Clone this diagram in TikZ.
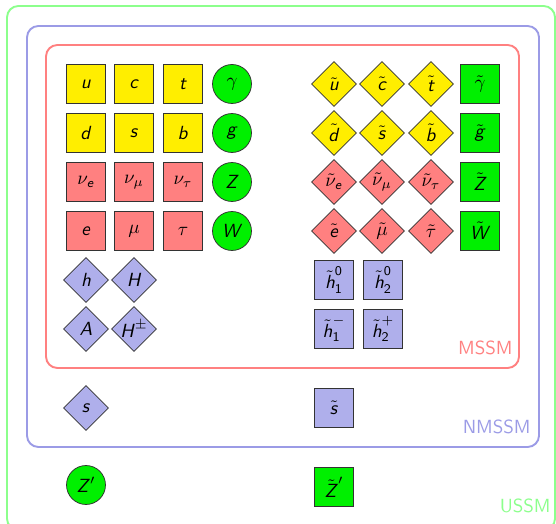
\documentclass[tikz,border=0pt]{standalone}
\usepackage{amsmath}
\usetikzlibrary{shapes.geometric}
\definecolor{qyel}{RGB}{255,238,0}
\definecolor{qred}{RGB}{255,128,128}
\definecolor{qgrn}{RGB}{0,240,0}
\definecolor{qblu}{RGB}{175,175,235}
\definecolor{lred}{RGB}{255,128,128}
\definecolor{lblu}{RGB}{155,155,230}
\definecolor{lgrn}{RGB}{140,255,140}
\newcommand\sv[1]{\text{\sffamily\itshape #1\/}}
\newcommand\sn[1]{\text{\sffamily #1}}
\begin{document}
\begin{tikzpicture}[x=0.526pt,y=-0.526pt,
  every node/.style={font=\sffamily},
  sq/.style={draw=black!80,rectangle,minimum size=20.5pt,inner sep=0pt},
  ci/.style={draw=black!80,circle,minimum size=20.5pt,inner sep=0pt,fill=qgrn},
  di/.style={draw=black!80,diamond,minimum size=23.7pt,inner sep=0pt},
  grp/.style={rounded corners=6pt,line width=1pt},
  lab/.style={anchor=base east,inner sep=0pt}]
\useasboundingbox (0,0) rectangle (556,524);
% group boxes
\draw[grp,draw=lgrn] (7,6) rectangle (555,530);
\draw[grp,draw=lblu] (27,26) rectangle (539,447);
\draw[grp,draw=lred] (46,45) rectangle (519,368);
\node[lab,text=lred] (lmssm) at (513,355) {MSSM};
\node[lab,text=lblu] (lnmssm) at (531,433) {NMSSM};
\node[lab,text=lgrn] (lussm) at (551,512) {USSM};
% SM particles
\node[sq,fill=qyel] (u) at (86,84) {$\sv{u}$};
\node[sq,fill=qyel] (c) at (134,84) {$\sv{c}$};
\node[sq,fill=qyel] (t) at (183,84) {$\sv{t}$};
\node[ci] (gam) at (232,84) {$\gamma$};
\node[sq,fill=qyel] (d) at (86,133) {$\sv{d}$};
\node[sq,fill=qyel] (s) at (134,133) {$\sv{s}$};
\node[sq,fill=qyel] (b) at (183,133) {$\sv{b}$};
\node[ci] (g) at (232,133) {$\sv{g}$};
\node[sq,fill=qred] (ne) at (86,182) {$\nu_{\sv{e}}$};
\node[sq,fill=qred] (nm) at (134,182) {$\nu_\mu$};
\node[sq,fill=qred] (nt) at (183,182) {$\nu_\tau$};
\node[ci] (Z) at (232,182) {$\sv{Z}$};
\node[sq,fill=qred] (e) at (86,231) {$\sv{e}$};
\node[sq,fill=qred] (mu) at (134,231) {$\mu$};
\node[sq,fill=qred] (tau) at (183,231) {$\tau$};
\node[ci] (W) at (232,231) {$\sv{W}$};
% Higgs
\node[di,fill=qblu] (h) at (86,280) {$\sv{h}$};
\node[di,fill=qblu] (H) at (134,280) {$\sv{H}$};
\node[di,fill=qblu] (A) at (86,329) {$\sv{A}$};
\node[di,fill=qblu] (Hpm) at (134,329) {$\sv{H}^\pm$};
\node[di,fill=qblu] (sing) at (86,408) {$\sv{s}$};
\node[ci] (Zp) at (86,485) {$\sv{Z}'$};
% superpartners
\node[di,fill=qyel] (su) at (334,84) {$\tilde{\sv{u}}$};
\node[di,fill=qyel] (sc) at (382,84) {$\tilde{\sv{c}}$};
\node[di,fill=qyel] (st) at (431,84) {$\tilde{\sv{t}}$};
\node[sq,fill=qgrn] (sgam) at (480,84) {$\tilde\gamma$};
\node[di,fill=qyel] (sd) at (334,133) {$\tilde{\sv{d}}$};
\node[di,fill=qyel] (ss) at (382,133) {$\tilde{\sv{s}}$};
\node[di,fill=qyel] (sb) at (431,133) {$\tilde{\sv{b}}$};
\node[sq,fill=qgrn] (sg) at (480,133) {$\tilde{\sv{g}}$};
\node[di,fill=qred] (sne) at (334,182) {$\tilde\nu_{\sv{e}}$};
\node[di,fill=qred] (snm) at (382,182) {$\tilde\nu_\mu$};
\node[di,fill=qred] (snt) at (431,182) {$\tilde\nu_\tau$};
\node[sq,fill=qgrn] (sZ) at (480,182) {$\tilde{\sv{Z}}$};
\node[di,fill=qred] (se) at (334,231) {$\tilde{\sv{e}}$};
\node[di,fill=qred] (smu) at (382,231) {$\tilde\mu$};
\node[di,fill=qred] (stau) at (431,231) {$\tilde\tau$};
\node[sq,fill=qgrn] (sW) at (480,231) {$\tilde{\sv{W}}$};
\node[sq,fill=qblu] (h10) at (334,280) {$\tilde{\sv{h}}_{\sn{1}}^{\sn{0}}$};
\node[sq,fill=qblu] (h20) at (383,280) {$\tilde{\sv{h}}_{\sn{2}}^{\sn{0}}$};
\node[sq,fill=qblu] (h1m) at (334,329) {$\tilde{\sv{h}}_{\sn{1}}^-$};
\node[sq,fill=qblu] (h2p) at (383,329) {$\tilde{\sv{h}}_{\sn{2}}^+$};
\node[sq,fill=qblu] (ssing) at (334,408) {$\tilde{\sv{s}}$};
\node[sq,fill=qgrn] (sZp) at (334,487) {$\tilde{\sv{Z}}'$};
\end{tikzpicture}
\end{document}
